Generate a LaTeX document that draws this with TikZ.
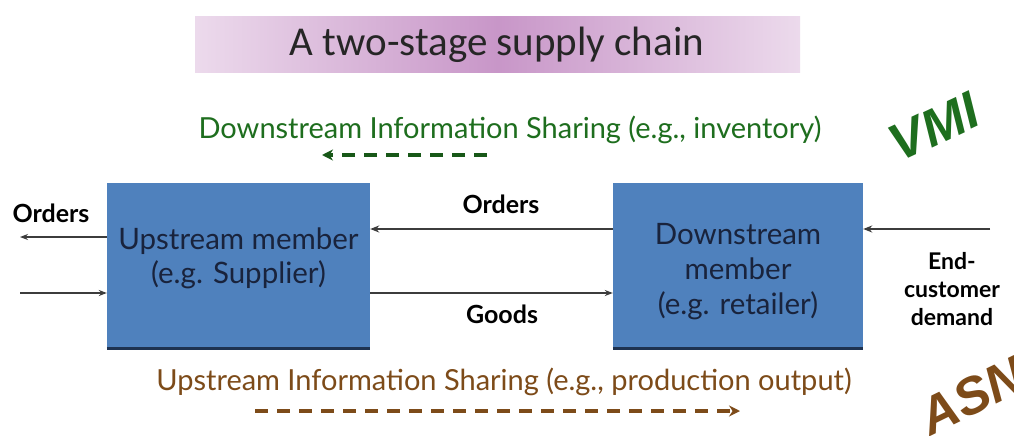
\documentclass[tikz,border=0pt]{standalone}
\usepackage{fontspec}
\setmainfont{Lato}
\newfontfamily\titlefont{Carlito}
\newfontfamily\markfont{Liberation Sans}
\usetikzlibrary{arrows.meta}
\definecolor{boxblue}{RGB}{79,129,189}
\definecolor{boxedge}{RGB}{30,50,80}
\definecolor{boxtext}{RGB}{25,35,60}
\definecolor{dsgreen}{RGB}{30,110,30}
\definecolor{usbrown}{RGB}{125,75,25}
\definecolor{lineg}{RGB}{60,60,60}
\definecolor{purpdark}{RGB}{200,150,200}
\definecolor{purplight}{RGB}{236,218,236}
\begin{document}
\begin{tikzpicture}[x=1pt,y=-1pt,
  member/.style={draw=none,fill=boxblue,minimum width=#1,minimum height=164pt,inner sep=0pt},
  membertext/.style={align=center,text=boxtext,inner sep=0pt,font=\fontsize{29.5}{34}\selectfont},
  flow/.style={draw=lineg,line width=1.8pt,-{Stealth[length=9pt,width=7pt]}},
  thinflow/.style={draw=lineg,line width=1.2pt,-{Stealth[length=8pt,width=6pt]}},
  lbl/.style={font=\fontsize{25}{28}\selectfont\bfseries,text=black,inner sep=0pt},
  info/.style={font=\fontsize{29}{32}\selectfont,inner sep=0pt},
  share/.style={line width=3.5pt,dash pattern=on 13pt off 9pt,-{Stealth[length=11pt,width=11pt]}}]
\useasboundingbox (0,0) rectangle (1014,436);
\fill[white] (0,0) rectangle (1014,436);
% title band
\shade[left color=purplight,right color=purplight,middle color=purpdark] (195,17) rectangle (800,72);
\node[font=\titlefont\fontsize{41}{46}\selectfont,text=black!85,inner sep=0pt] (title) at (497,45) {A two-stage supply chain};
% boxes
\node[member=263pt] (up) at (238.5,265) {};
\node[member=250pt] (down) at (738,265) {};
\draw[boxedge,line width=3pt] ([yshift=-1.5pt]up.south west) -- ([yshift=-1.5pt]up.south east);
\draw[boxedge,line width=3pt] ([yshift=-1.5pt]down.south west) -- ([yshift=-1.5pt]down.south east);
\node[membertext] (uptext) at (238.5,258) {Upstream member\\(e.g. Supplier)};
\node[membertext,font=\fontsize{29.5}{35}\selectfont] (downtext) at (738,272) {Downstream\\member\\(e.g. retailer)};
% outer coordinates
\coordinate (ordout) at (20,237);
\coordinate (goodsin) at (20,293);
\coordinate (demand) at (990,229);
% connectors
\draw[thinflow] (up.west |- ordout) -- (ordout);
\draw[thinflow] (goodsin) -- (up.west |- goodsin);
\draw[flow] (down.west |- 0,229) -- (up.east |- 0,229);
\draw[thinflow] (up.east |- 0,293) -- (down.west |- 0,293);
\draw[flow] (demand) -- (down.east |- demand);
% labels
\node[lbl] (ordl) at (51,213) {Orders};
\node[lbl] (ordm) at (501,204) {Orders};
\node[lbl] (goods) at (502,314) {Goods};
\node[lbl,align=center,font=\fontsize{23}{28}\selectfont\bfseries] (endc) at (952,289) {End-\\customer\\demand};
% information sharing
\node[info,text=dsgreen] (dsinfo) at (510,130) {Downstream Information Sharing (e.g., inventory)};
\coordinate (dsa) at (487,155);
\coordinate (dsb) at (322,155);
\draw[share,draw=dsgreen!80!black] (dsa) -- (dsb);
\node[info,text=usbrown] (usinfo) at (504,382) {Upstream Information Sharing (e.g., production output)};
\coordinate (usa) at (255,411);
\coordinate (usb) at (740,411);
\draw[share,draw=usbrown] (usa) -- (usb);
% marks
\node[font=\markfont\fontsize{52}{56}\selectfont\bfseries\itshape,text=dsgreen,rotate=25,inner sep=0pt] (vmi) at (934,127) {VMI};
\node[font=\markfont\fontsize{52}{56}\selectfont\bfseries\itshape,text=usbrown,rotate=26,inner sep=0pt] (asn) at (972,396) {ASN};
\end{tikzpicture}
\end{document}
